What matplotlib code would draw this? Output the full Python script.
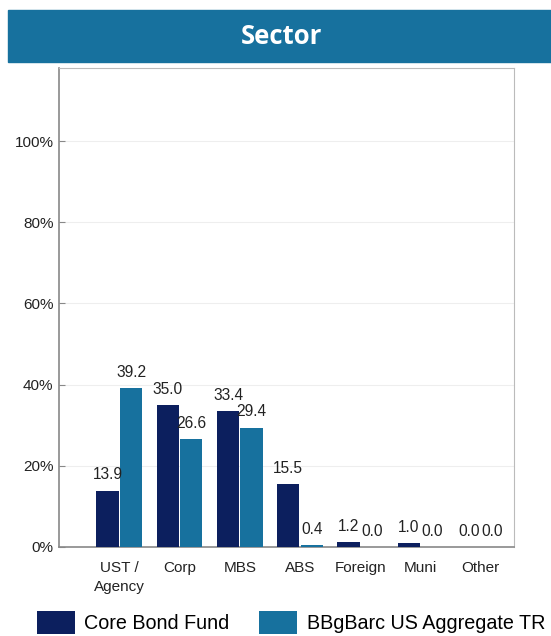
import numpy as np
import matplotlib.pyplot as plt
from matplotlib.patches import Rectangle

categories = ['UST /\nAgency', 'Corp', 'MBS', 'ABS', 'Foreign', 'Muni', 'Other']
fund = [13.9, 35.0, 33.4, 15.5, 1.2, 1.0, 0.0]
bench = [39.2, 26.6, 29.4, 0.4, 0.0, 0.0, 0.0]
series_names = ['Core Bond Fund', 'BBgBarc US Aggregate TR']

dark = '#0c1f5e'
light = '#17719e'

plt.rcParams['font.family'] = ['Liberation Sans', 'DejaVu Sans']

fig = plt.figure(figsize=(5.51, 6.36), dpi=100)

# header band
fig.patches.append(Rectangle((8 / 551, 1 - 62 / 636), 1 - 8 / 551, 52 / 636,
                             transform=fig.transFigure, color=light, zorder=0))
fig.text(0.51, 1 - 37 / 636, 'Sector', color='white', fontsize=18.5, fontweight='bold',
         family=['Open Sans', 'DejaVu Sans'], ha='center', va='center')

ax = fig.add_axes([59 / 551, 89 / 636, 455 / 551, 479 / 636])
x = np.arange(len(categories))
w = 0.37
b1 = ax.bar(x - w / 2 - 0.01, fund, w, color=dark, label=series_names[0], zorder=3)
b2 = ax.bar(x + w / 2 + 0.01, bench, w, color=light, label=series_names[1], zorder=3)
for bars in (b1, b2):
    ax.bar_label(bars, fmt='%.1f', padding=6, fontsize=11.2, color='#222222')

ax.set_xlim(-1, 6.55)
ax.set_ylim(0, 118)
ax.set_yticks([0, 20, 40, 60, 80, 100])
ax.set_yticklabels(['0%', '20%', '40%', '60%', '80%', '100%'])
ax.set_xticks(x)
ax.set_xticklabels(categories, linespacing=1.45)
ax.tick_params(axis='x', length=0, pad=10, labelsize=11, colors='#222222')
ax.tick_params(axis='y', direction='in', length=4, width=0.8, color='#888888', labelsize=11,
               labelcolor='#222222', pad=4)
ax.grid(axis='y', color='#eeeeee', linewidth=0.8, zorder=0)
for s in ['top', 'right']:
    ax.spines[s].set_color('#bbbbbb')
    ax.spines[s].set_linewidth(0.8)
for s in ['left', 'bottom']:
    ax.spines[s].set_color('#888888')
    ax.spines[s].set_linewidth(1.2)

fig.legend(ncol=2, loc='lower left', bbox_to_anchor=(0.035, -0.025), frameon=False,
           fontsize=14.2, handlelength=1.9, handleheight=1.4, columnspacing=1.5, handletextpad=0.5)

fig.savefig('out.png', dpi=100)
